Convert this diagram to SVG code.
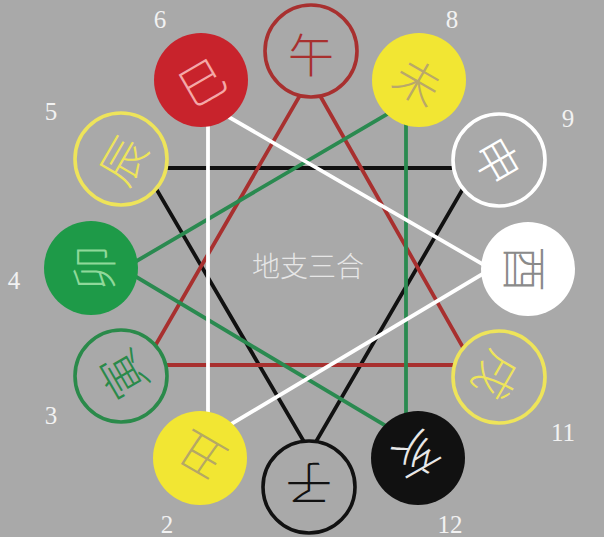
<svg xmlns="http://www.w3.org/2000/svg" width="604" height="537" viewBox="0 0 604 537">
<style>
.bg{fill:#a9a9a9}
.ln{fill:none;stroke-width:3.8;stroke-linejoin:miter}
.ring{fill:#a9a9a9;stroke-width:3.6}
.ch{font-family:"Noto Sans CJK SC","Noto Sans CJK TC",sans-serif;font-size:46px;font-weight:300;text-anchor:middle;dominant-baseline:central}
.num{font-family:"Liberation Serif",serif;font-size:25px;fill:#f2f2f2;text-anchor:middle}
.title{font-family:"Noto Sans CJK SC",sans-serif;font-size:28px;font-weight:300;fill:#e6e6e6;text-anchor:middle}
</style>
<rect class="bg" x="0" y="0" width="604" height="537"/>
<g id="connectors">
<polygon class="ln" stroke="#111111" points="144,168 475,168 310,452"/>
<polygon class="ln" stroke="#a8302f" points="310,78 473,365 144,365"/>
<polygon class="ln" stroke="#2a8a50" points="123,269 406,103 406,438"/>
<polygon class="ln" stroke="#ffffff" points="208,105 491,269 208,438"/>
</g>
<text class="title" x="308" y="277">地支三合</text>
<g id="wu"><circle class="ring" cx="311" cy="51" r="46" stroke="#a8302f"/><text class="ch" x="311" y="52" fill="#a8302f">午</text></g>
<g id="si"><circle cx="201" cy="80" r="47" fill="#c8232c"/><text class="ch" x="201" y="80" fill="#f4a8a8" transform="rotate(-30 201 80)">巳</text></g>
<g id="wei"><circle cx="419" cy="80" r="47" fill="#f2e633"/><text class="ch" x="419" y="80" fill="#b9a86a" transform="rotate(30 419 80)">未</text></g>
<g id="chen"><circle class="ring" cx="121" cy="159" r="46" stroke="#eee45a"/><text class="ch" x="121" y="159" fill="#eee45a" transform="rotate(-60 121 159)">辰</text></g>
<g id="shen"><circle class="ring" cx="499" cy="160" r="46" stroke="#ffffff"/><text class="ch" x="499" y="160" fill="#ffffff" transform="rotate(60 499 160)">申</text></g>
<g id="mao"><circle cx="91" cy="268" r="47" fill="#1e9a48"/><text class="ch" x="91" y="268" fill="#8fd89a" transform="rotate(-90 91 268)">卯</text></g>
<g id="you"><circle cx="528" cy="269" r="47" fill="#ffffff"/><text class="ch" x="528" y="269" fill="#8a8a8a" transform="rotate(90 528 269)">酉</text></g>
<g id="yin"><circle class="ring" cx="121" cy="376" r="46" stroke="#2a8a4a"/><text class="ch" x="121" y="376" fill="#2a8a4a" transform="rotate(-120 121 376)">寅</text></g>
<g id="xu"><circle class="ring" cx="499" cy="377" r="46" stroke="#eee45a"/><text class="ch" x="499" y="377" fill="#eee45a" transform="rotate(120 499 377)">戌</text></g>
<g id="chou"><circle cx="200" cy="458" r="47" fill="#f2e633"/><text class="ch" x="200" y="458" fill="#b5a865" transform="rotate(-150 200 458)">丑</text></g>
<g id="hai"><circle cx="418" cy="458" r="47" fill="#111111"/><text class="ch" x="418" y="458" fill="#e8e8e8" transform="rotate(150 418 458)">亥</text></g>
<g id="zi"><circle class="ring" cx="309" cy="487" r="46" stroke="#111111"/><text class="ch" x="309" y="487" fill="#111111" transform="rotate(180 309 487)">子</text></g>
<g id="numbers">
<text class="num" x="160" y="28">6</text>
<text class="num" x="452" y="28">8</text>
<text class="num" x="51" y="120">5</text>
<text class="num" x="568" y="127">9</text>
<text class="num" x="14" y="289">4</text>
<text class="num" x="51" y="424">3</text>
<text class="num" x="563" y="441">11</text>
<text class="num" x="167" y="533">2</text>
<text class="num" x="450" y="533">12</text>
</g>
</svg>
